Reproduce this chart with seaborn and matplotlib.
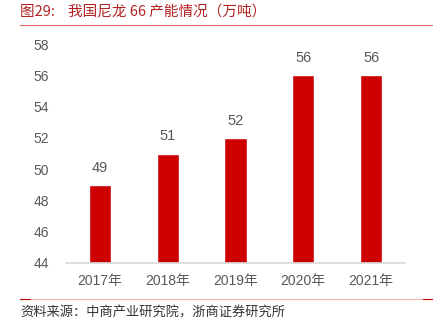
import matplotlib
matplotlib.use("Agg")
import matplotlib.pyplot as plt
import seaborn as sns
import pandas as pd

years = ["2017年", "2018年", "2019年", "2020年", "2021年"]
capacity = [49, 51, 52, 56, 56]
yticks = [44, 46, 48, 50, 52, 54, 56, 58]

sns.set_theme(style="white")
plt.rcParams['font.family'] = ['Liberation Sans', 'Noto Sans CJK SC', 'DejaVu Sans']

df = pd.DataFrame({"year": years, "cap": capacity})
fig = plt.figure(figsize=(4.4, 3.23), dpi=100)
ax = fig.add_axes([66/440, 1-263/323, (405-66)/440, (263-44)/323])
sns.barplot(data=df, x="year", y="cap", color="#CC0000", saturation=1, width=0.33, ax=ax)
ax.set_ylim(44, 58)
ax.set_yticks(yticks)
ax.set_xlabel("")
ax.set_ylabel("")
for s in ["top", "right", "left"]:
    ax.spines[s].set_visible(False)
ax.spines["bottom"].set_color("#D9D9D9")
ax.tick_params(axis="both", length=0, labelsize=10, colors="#595959", pad=8)
ax.tick_params(axis="y", pad=12)
for i, v in enumerate(capacity):
    ax.text(i, v + 0.65, str(v), ha="center", va="bottom", fontsize=10.5, color="#595959")

fig.text(20/440, 1-12/323, "图29:    我国尼龙 66 产能情况（万吨）", fontsize=10.5, color="#B22222",
         va="center", ha="left", family=['Noto Sans CJK SC', 'DejaVu Sans'])
fig.add_artist(plt.Line2D([20/440, 432/440], [1-25/323, 1-25/323], color="#E06666", lw=0.8))
fig.add_artist(plt.Line2D([20/440, 432/440], [1-299/323, 1-299/323], color="#F4B6B6", lw=0.8))
fig.add_artist(plt.Line2D([20/440, 30/440], [1-299/323, 1-299/323], color="#C00000", lw=0.8))
fig.add_artist(plt.Line2D([423/440, 432/440], [1-299/323, 1-299/323], color="#C00000", lw=0.8))
fig.text(20/440, 1-313/323, "资料来源：中商产业研究院，浙商证券研究所", fontsize=9.5, color="#333333",
         va="center", ha="left", family=['Noto Sans CJK SC', 'DejaVu Sans'])
fig.savefig("out.png", dpi=100)
